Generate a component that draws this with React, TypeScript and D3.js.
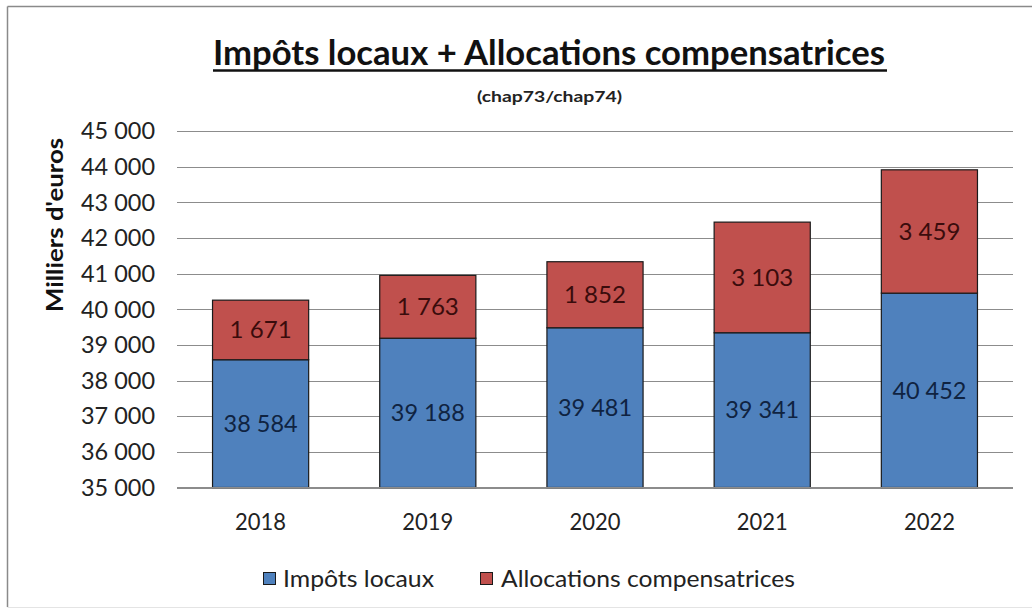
import React from "react";
import * as d3 from "d3";

const years = ["2018", "2019", "2020", "2021", "2022"];
const impotsLocaux = [38584, 39188, 39481, 39341, 40452];
const allocations = [1671, 1763, 1852, 3103, 3459];
const yTicks = [35000, 36000, 37000, 38000, 39000, 40000, 41000, 42000, 43000, 44000, 45000];
const seriesNames = ["Impôts locaux", "Allocations compensatrices"];
const seriesColors = ["#4F81BD", "#C0504D"];
const labelColors = ["#0F2341", "#3A0C0C"];

const W = 1032;
const H = 611;
const FONT = "Lato, 'Open Sans', sans-serif";

const fr = d3.formatLocale({ decimal: ",", thousands: " ", grouping: [3], currency: ["", " €"] });
const fmt = fr.format(",d");

export default function App() {
  const x = d3.scaleBand<string>().domain(years).range([177, 1013]).paddingInner(0.425).paddingOuter(0.2125);
  const y = d3.scaleLinear().domain([35000, 45000]).range([487.5, 131]);

  const rows = years.map((yr, i) => ({ year: yr, a: impotsLocaux[i], b: allocations[i] }));
  const stacked = d3.stack<any>().keys(["a", "b"])(rows);

  return (
    <svg width={W} height={H} style={{ position: "absolute", left: 0, top: 0, background: "#fff" }} fontFamily={FONT}>
      <rect x={0} y={0} width={W} height={H} fill="#fff" />
      {/* frame */}
      <line x1={7.5} y1={6.5} x2={W} y2={6.5} stroke="#8a8a8a" strokeWidth={1.5} />
      <line x1={7.5} y1={6.5} x2={7.5} y2={607} stroke="#8a8a8a" strokeWidth={1.5} />
      <line x1={7.5} y1={607.5} x2={W} y2={607.5} stroke="#e4e4e4" strokeWidth={1} />

      {/* title */}
      <text x={213} y={65} fontSize={34} fontWeight={700} fill="#111" textLength={672} lengthAdjust="spacingAndGlyphs">
        Impôts locaux + Allocations compensatrices
      </text>
      <line x1={213} y1={70.5} x2={887} y2={70.5} stroke="#111" strokeWidth={2.5} />
      <text x={549.5} y={102} fontSize={16} fontWeight={700} fill="#222" textAnchor="middle" textLength={145} lengthAdjust="spacingAndGlyphs">
        (chap73/chap74)
      </text>

      {/* y axis title */}
      <text transform="translate(63,225) rotate(-90)" textAnchor="middle" fontSize={22} fontWeight={700} fill="#111" textLength={174} lengthAdjust="spacingAndGlyphs">
        Milliers d'euros
      </text>

      {/* gridlines & tick labels */}
      {yTicks.map((t) => (
        <g key={t}>
          <line x1={177} x2={1013} y1={Math.round(y(t)) + 0.5} y2={Math.round(y(t)) + 0.5} stroke="#8c8c8c" strokeWidth={1} />
          <text x={155} y={y(t)} dy="0.36em" textAnchor="end" fontSize={23} fill="#222" textLength={74} lengthAdjust="spacingAndGlyphs">
            {fmt(t)}
          </text>
        </g>
      ))}

      {/* bars */}
      {stacked.map((s: any, si: number) => (
        <g key={si}>
          {s.map((d: any, i: number) => {
            const y0 = y(Math.max(d[0], 35000));
            const y1 = y(d[1]);
            const bx = x(years[i])!;
            const v = si === 0 ? impotsLocaux[i] : allocations[i];
            return (
              <g key={i}>
                <rect x={bx} y={y1} width={x.bandwidth()} height={y0 - y1} fill={seriesColors[si]} stroke="#1a1a1a" strokeWidth={1.2} />
                <text x={bx + x.bandwidth() / 2} y={(y0 + y1) / 2} dy="0.36em" textAnchor="middle" fontSize={23} fill={labelColors[si]}
                  textLength={v >= 10000 ? 74 : 62} lengthAdjust="spacingAndGlyphs">
                  {fmt(v)}
                </text>
              </g>
            );
          })}
        </g>
      ))}

      {/* bottom axis line */}
      <line x1={177} x2={1013} y1={487.5} y2={487.5} stroke="#8c8c8c" strokeWidth={1.2} />

      {/* x labels */}
      {years.map((yr) => (
        <text key={yr} x={x(yr)! + x.bandwidth() / 2} y={530} textAnchor="middle" fontSize={23} fill="#222" textLength={51} lengthAdjust="spacingAndGlyphs">
          {yr}
        </text>
      ))}

      {/* legend */}
      <rect x={263.5} y={572.5} width={12} height={12} fill={seriesColors[0]} stroke="#1a1a1a" strokeWidth={1} />
      <text x={283} y={587} fontSize={23} fill="#222" textLength={151} lengthAdjust="spacingAndGlyphs">
        {seriesNames[0]}
      </text>
      <rect x={480.5} y={572.5} width={12} height={12} fill={seriesColors[1]} stroke="#1a1a1a" strokeWidth={1} />
      <text x={501} y={587} fontSize={23} fill="#222" textLength={294} lengthAdjust="spacingAndGlyphs">
        {seriesNames[1]}
      </text>
    </svg>
  );
}
